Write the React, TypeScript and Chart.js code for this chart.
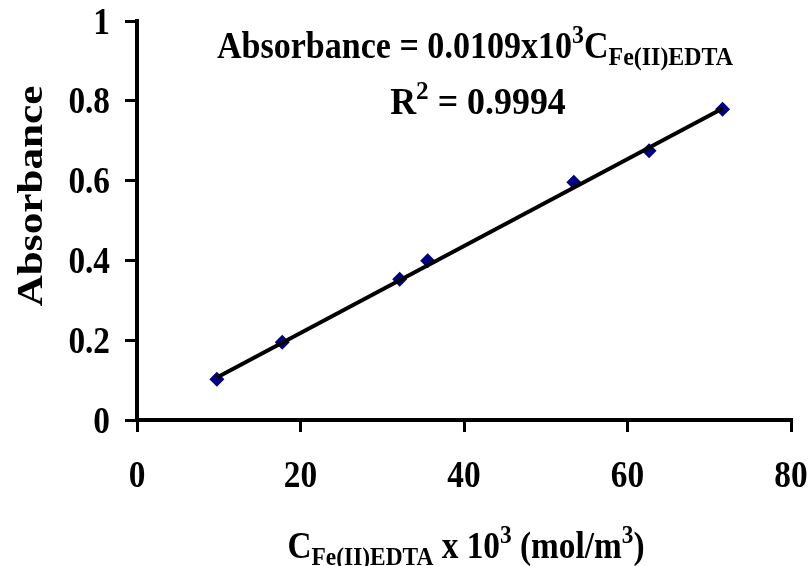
import React, { useEffect, useRef } from "react";
import { Chart, registerables } from "chart.js";

Chart.register(...registerables);

// Calibration data: Fe(II)EDTA concentration (x10^3 mol/m^3) vs absorbance
const concentration = [9.77, 17.77, 32.13, 35.56, 53.43, 62.64, 71.63];
const absorbance = [0.102, 0.195, 0.353, 0.399, 0.596, 0.675, 0.779];

// Linear fit through the origin
const slope = 0.0109;
const rSquared = "0.9994";

const xTicks = [0, 20, 40, 60, 80];
const yTicks = [0, 0.2, 0.4, 0.6, 0.8, 1];
const yTickLabels = ["0", "0.2", "0.4", "0.6", "0.8", "1"];

const FONT = "'Liberation Serif', 'Times New Roman', serif";

type Run = { t: string; size: number; dy?: number };

// Draws a line of mixed-size text (sub/superscripts), anchored at ax
function drawRuns(
  ctx: CanvasRenderingContext2D,
  runs: Run[],
  ax: number,
  baseline: number,
  sx = 1,
  align: "center" | "right" = "center"
) {
  ctx.save();
  let total = 0;
  const widths = runs.map((r) => {
    ctx.font = `bold ${r.size}px ${FONT}`;
    const w = ctx.measureText(r.t).width;
    total += w;
    return w;
  });
  const start = align === "center" ? ax - (total * sx) / 2 : ax - total * sx;
  ctx.translate(start, baseline);
  ctx.scale(sx, 1);
  ctx.fillStyle = "#000";
  ctx.textBaseline = "alphabetic";
  ctx.textAlign = "left";
  let x = 0;
  runs.forEach((r, i) => {
    ctx.font = `bold ${r.size}px ${FONT}`;
    ctx.fillText(r.t, x, r.dy || 0);
    x += widths[i];
  });
  ctx.restore();
}

const TICK_SIZE = 37;
const TICK_SX = 0.9;

const textPlugin = {
  id: "calibrationText",
  afterDraw(chart: Chart) {
    const ctx = chart.ctx;
    const xs = chart.scales.x;
    const ys = chart.scales.y;

    // Tick labels
    xTicks.forEach((v) => {
      drawRuns(ctx, [{ t: String(v), size: TICK_SIZE }], xs.getPixelForValue(v), 487, TICK_SX);
    });
    yTicks.forEach((v, i) => {
      drawRuns(
        ctx,
        [{ t: yTickLabels[i], size: TICK_SIZE }],
        110,
        ys.getPixelForValue(v) + 12.5,
        TICK_SX,
        "right"
      );
    });

    // Fit equation and R^2
    drawRuns(
      ctx,
      [
        { t: `Absorbance = ${slope}x10`, size: 37 },
        { t: "3", size: 26, dy: -15 },
        { t: "C", size: 37 },
        { t: "Fe(II)EDTA", size: 26, dy: 7 },
      ],
      475,
      58,
      0.92
    );
    drawRuns(
      ctx,
      [
        { t: "R", size: 37 },
        { t: "2", size: 26, dy: -15 },
        { t: ` = ${rSquared}`, size: 37 },
      ],
      478,
      114,
      0.97
    );

    // x-axis title
    drawRuns(
      ctx,
      [
        { t: "C", size: 37 },
        { t: "Fe(II)EDTA", size: 26, dy: 7 },
        { t: " x 10", size: 37 },
        { t: "3", size: 26, dy: -15 },
        { t: " (mol/m", size: 37 },
        { t: "3", size: 26, dy: -15 },
        { t: ")", size: 37 },
      ],
      466,
      558,
      0.9
    );

    // y-axis title
    ctx.save();
    ctx.translate(30, 196);
    ctx.rotate(-Math.PI / 2);
    drawRuns(ctx, [{ t: "Absorbance", size: 36 }], 0, 12, 1.2);
    ctx.restore();
  },
};

export default function App() {
  const canvasRef = useRef<HTMLCanvasElement | null>(null);

  useEffect(() => {
    const canvas = canvasRef.current;
    if (!canvas) return;

    const first = concentration[0];
    const last = concentration[concentration.length - 1];

    const hiddenTicks = {
      font: { family: FONT, size: 34, weight: "bold" as const },
      color: "rgba(0,0,0,0)",
      maxRotation: 0,
    };
    const axisGrid = {
      display: true,
      drawOnChartArea: false,
      drawTicks: true,
      tickLength: 12,
      lineWidth: 3,
      color: "#000",
    };

    const chart = new Chart(canvas, {
      type: "scatter",
      data: {
        datasets: [
          {
            label: "Linear fit",
            data: [
              { x: first, y: slope * first },
              { x: last, y: slope * last },
            ],
            showLine: true,
            borderColor: "#000",
            borderWidth: 4,
            pointRadius: 0,
          },
          {
            label: "Absorbance",
            data: concentration.map((c, i) => ({ x: c, y: absorbance[i] })),
            pointStyle: "rectRot",
            pointRadius: 7.5,
            backgroundColor: "#000080",
            borderColor: "#000080",
            borderWidth: 0,
          },
        ],
      },
      options: {
        animation: false,
        responsive: false,
        devicePixelRatio: 1,
        layout: { padding: { top: 21, right: 20, left: 0, bottom: 0 } },
        plugins: {
          legend: { display: false },
          tooltip: { enabled: false },
        },
        scales: {
          x: {
            type: "linear",
            min: 0,
            max: 80,
            afterBuildTicks: (s: any) => {
              s.ticks = xTicks.map((v) => ({ value: v }));
            },
            afterFit: (s: any) => {
              s.height = 146;
              s.paddingLeft = 0;
              s.paddingRight = 0;
            },
            grid: axisGrid,
            border: { display: true, width: 4, color: "#000" },
            ticks: { ...hiddenTicks, padding: 20 },
          },
          y: {
            type: "linear",
            min: 0,
            max: 1,
            afterBuildTicks: (s: any) => {
              s.ticks = yTicks.map((v) => ({ value: v }));
            },
            afterFit: (s: any) => {
              s.width = 137;
              s.paddingTop = 0;
              s.paddingBottom = 0;
            },
            grid: axisGrid,
            border: { display: true, width: 4, color: "#000" },
            ticks: { ...hiddenTicks, padding: 14 },
          },
        },
      },
      plugins: [textPlugin],
    });

    return () => chart.destroy();
  }, []);

  return (
    <div
      style={{
        position: "fixed",
        left: 0,
        top: 0,
        width: 811,
        height: 566,
        background: "#fff",
      }}
    >
      <canvas ref={canvasRef} width={811} height={566} />
    </div>
  );
}
